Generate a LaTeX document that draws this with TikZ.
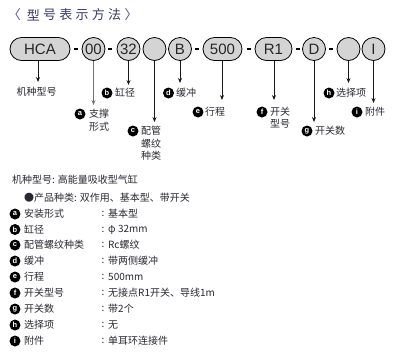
\documentclass[tikz,border=0pt]{standalone}
\usepackage{fontspec}
\setmainfont{Liberation Sans}
\newfontfamily\cjk{Noto Sans CJK SC}
\usetikzlibrary{arrows.meta}
\definecolor{boxgray}{RGB}{212,212,212}
\definecolor{txt}{RGB}{40,40,48}
\definecolor{ttl}{RGB}{55,55,105}
\definecolor{brk}{RGB}{90,70,160}
\begin{document}
\begin{tikzpicture}[x=1pt,y=-1pt,
  pill/.style={draw=black, line width=0.8pt, fill=boxgray, rounded corners=11.5pt,
    minimum height=23pt, inner sep=0pt, font=\fontsize{15}{15}\selectfont, text=black!85},
  circ/.style={draw=black, line width=0.8pt, fill=boxgray, circle, minimum size=23pt,
    inner sep=0pt, font=\fontsize{15}{15}\selectfont, text=black!85},
  dashbar/.style={line width=1.8pt, black},
  conn/.style={line width=0.8pt, black!90, -{Stealth[length=5pt,width=4pt]}},
  lab/.style={circle, fill=black, minimum size=11pt, inner sep=0pt,
    font=\fontsize{7.5}{7.5}\selectfont\bfseries, text=white},
  cn/.style={inner sep=0pt, font=\cjk\fontsize{10}{12}\selectfont, text=txt},
  ttlc/.style={inner sep=0pt, font=\cjk\fontsize{13}{13}\selectfont, text=ttl}
]
\useasboundingbox (0,0) rectangle (399,360);
% title
\node[ttlc, text=brk] (tl) at (14.5,15) {\cjk〈};
\foreach \c [count=\i] in {型,号,表,示,方,法}
  \node[ttlc] (t\i) at ({33.5+16.2*(\i-1)},15) {\c};
\node[ttlc, text=brk] (tr) at (131,15) {\cjk〉};
% model code row
\node[pill, minimum width=60pt] (hca) at (40,49) {HCA};
\node[circ] (n00) at (93.5,49) {00};
\node[circ] (n32) at (128.5,49) {32};
\node[circ] (ne1) at (154.5,49) {};
\node[circ] (nB) at (180,49) {B};
\node[pill, minimum width=39pt] (n500) at (222.5,49) {500};
\node[pill, minimum width=37pt] (nR1) at (273.5,49) {R1};
\node[circ] (nD) at (314,49) {D};
\node[circ] (ne2) at (348.5,49) {};
\node[circ] (nI) at (373.5,49) {I};
% dashes
\draw[dashbar] ([xshift=4pt]hca.east) -- ++(4,0);
\draw[dashbar] ([xshift=3pt]n00.east) -- ++(4,0);
\draw[dashbar] ([xshift=3.5pt]nB.east) -- ++(4,0);
\draw[dashbar] ([xshift=5pt]n500.east) -- ++(4,0);
\draw[dashbar] ([xshift=3.5pt]nR1.east) -- ++(4,0);
\draw[dashbar] ([xshift=3.5pt]nD.east) -- ++(4,0);
% label texts (upper)
\node[cn] (lhca) at (36.5,92) {机种型号};
\node[lab] (la) at (80,114) {a};
\node[cn, anchor=west] (la1) at (89,114) {支撑};
\node[cn, anchor=west] (la2) at (89,127) {形式};
\node[lab] (lb) at (107,93) {b};
\node[cn, anchor=west] (lb1) at (115,93) {缸径};
\node[lab] (lc) at (133,131) {c};
\node[cn, anchor=west] (lc1) at (141,131) {配管};
\node[cn, anchor=west] (lc2) at (141,143.5) {螺纹};
\node[cn, anchor=west] (lc3) at (141,156) {种类};
\node[lab] (ld) at (168.5,93) {d};
\node[cn, anchor=west] (ld1) at (176,93) {缓冲};
\node[lab] (le) at (198,112) {e};
\node[cn, anchor=west] (le1) at (205,112) {行程};
\node[lab] (lf) at (262,112) {f};
\node[cn, anchor=west] (lf1) at (270,112) {开关};
\node[cn, anchor=west] (lf2) at (270,124) {型号};
\node[lab] (lg) at (307,131) {g};
\node[cn, anchor=west] (lg1) at (315,131) {开关数};
\node[lab] (lh) at (329,93) {h};
\node[cn, anchor=west] (lh1) at (336,93) {选择项};
\node[lab] (li) at (357,112) {i};
\node[cn, anchor=west] (li1) at (365,112) {附件};
% connectors
\coordinate (ehca) at (38,82);
\coordinate (e00) at (93.5,105);
\coordinate (e32) at (128.5,85);
\coordinate (ee1) at (154.5,122);
\coordinate (eB) at (180,83);
\coordinate (e500) at (222,100);
\coordinate (eR1) at (274,100);
\coordinate (eD) at (314,122);
\coordinate (ee2) at (348.5,83);
\coordinate (eI) at (373.5,103);
\draw[conn] (hca.south -| ehca) -- (ehca);
\draw[conn, black!55] (n00.south) -- (e00);
\draw[conn] (n32.south) -- (e32);
\draw[conn] (ne1.south) -- (ee1);
\draw[conn] (nB.south) -- (eB);
\draw[conn] (n500.south -| e500) -- (e500);
\draw[conn] (nR1.south -| eR1) -- (eR1);
\draw[conn] (nD.south) -- (eD);
\draw[conn] (ne2.south) -- (ee2);
\draw[conn] (nI.south) -- (eI);
% table
\node[cn, anchor=west] (h1) at (12,180) {机种型号: 高能量吸收型气缸};
\node[cn, anchor=west] (h2) at (24,198) {●产品种类: 双作用、基本型、带开关};
\foreach \y/\l/\n/\v [count=\k] in {
  214/a/安装形式/基本型,
  229.5/b/缸径/φ 32mm,
  245/c/配管螺纹种类/Rc螺纹,
  261/d/缓冲/带两侧缓冲,
  277/e/行程/500mm,
  293/f/开关型号/无接点R1开关、导线1m,
  309/g/开关数/带2个,
  325/h/选择项/无,
  341/i/附件/单耳环连接件}{
  \node[lab] (tl\k) at (15,\y) {\l};
  \node[cn, anchor=west] (tn\k) at (24,\y) {\n};
  \node[cn] (tc\k) at (103,\y) {:};
  \node[cn, anchor=west] (tv\k) at (108,\y) {\v};
}
\end{tikzpicture}
\end{document}
